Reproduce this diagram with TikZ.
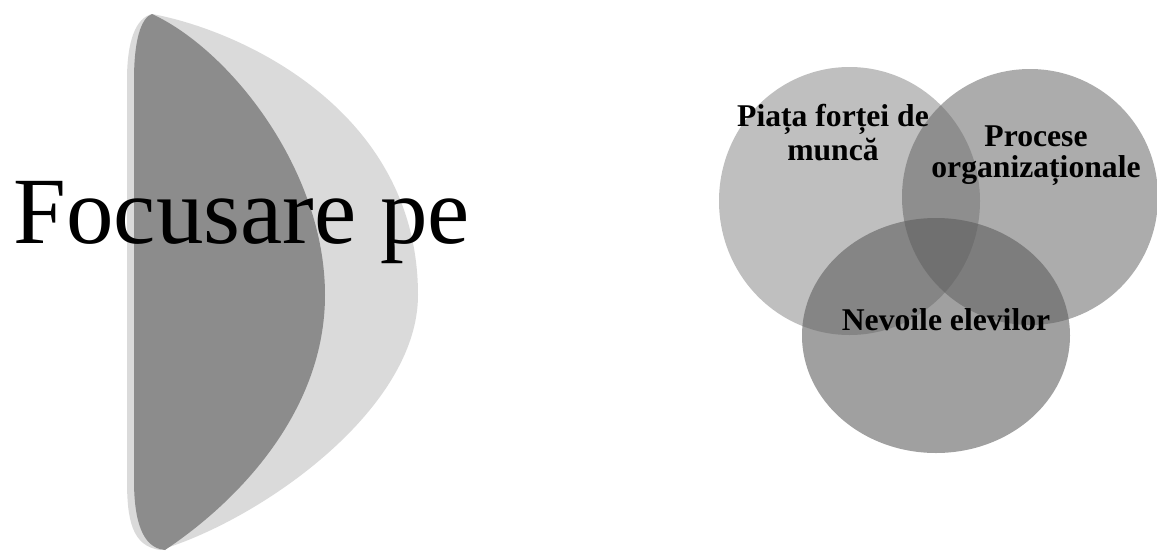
\documentclass[tikz,border=0pt]{standalone}
\usepackage{fontspec}
\setmainfont{Liberation Serif}
\definecolor{lensback}{HTML}{DADADA}
\definecolor{lensfront}{HTML}{8C8C8C}
\definecolor{ringa}{HTML}{BFBFBF}
\definecolor{ringb}{HTML}{676767}
\definecolor{ringc}{HTML}{5C5C5C}

\begin{document}
\begin{tikzpicture}[x=0.01cm,y=-0.01cm,line join=round,
  lbl/.style={font=\fontsize{9}{8.6}\selectfont\bfseries,align=center,
              inner sep=0pt,anchor=base}]
  \useasboundingbox (0,0) rectangle (1157,551);
  \coordinate (top) at (152,14);
  \coordinate (back) at (418,295);
  \coordinate (front) at (325,295);

  \fill[lensback] (top) .. controls (240,30) and (418,110) .. (back)
    .. controls (418,410) and (260,520) .. (160,550)
    .. controls (132,546) and (127,520) .. (127,480) -- (127,80)
    .. controls (127,40) and (136,18) .. (top) -- cycle;
  \fill[lensfront] (top) .. controls (230,50) and (325,170) .. (front)
    .. controls (325,410) and (240,500) .. (165,550)
    .. controls (142,548) and (134,520) .. (134,480) -- (134,80)
    .. controls (134,40) and (141,18) .. (top) -- cycle;
  \node[anchor=base west,inner sep=0pt,font=\fontsize{27}{32}\selectfont]
    (focus) at (13,243) {Focusare pe};

  \coordinate (A) at (849.5,201);
  \coordinate (B) at (1030,197);
  \coordinate (C) at (936,335.5);
  \fill[ringa] (A) ellipse [x radius=130.5,y radius=134];
  \fill[ringb,fill opacity=.55] (B) ellipse [x radius=128,y radius=128];
  \fill[ringc,fill opacity=.585] (C) ellipse [x radius=134,y radius=117.5];

  \node[lbl] (piata) at (833,160) {Piața forței de\\muncă};
  \node[lbl] (procese) at (1036,177) {Procese\\organizaționale};
  \node[lbl] (nevoi) at (946,330) {Nevoile elevilor};
\end{tikzpicture}
\end{document}
